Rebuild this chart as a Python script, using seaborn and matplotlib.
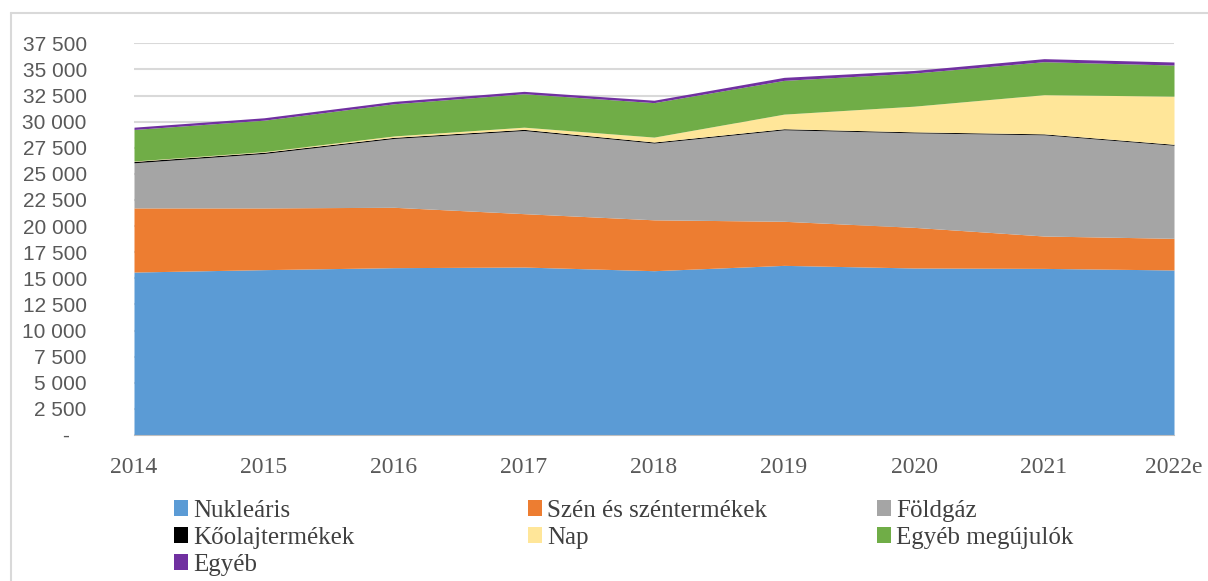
import matplotlib
matplotlib.use("Agg")
import matplotlib.pyplot as plt
import matplotlib.patches as mpatches
from matplotlib.lines import Line2D
import seaborn as sns
import numpy as np

years = ['2014', '2015', '2016', '2017', '2018', '2019', '2020', '2021', '2022e']
nuklearis = [15600, 15830, 16020, 16080, 15730, 16240, 15990, 15950, 15800]
szen = [6140, 5910, 5780, 5110, 4870, 4220, 3890, 3100, 3030]
foldgaz = [4320, 5210, 6590, 7960, 7350, 8760, 9050, 9690, 8910]
koolaj = [130, 120, 110, 110, 100, 100, 90, 90, 90]
nap = [40, 60, 130, 210, 470, 1400, 2460, 3750, 4610]
egyeb_megujulo = [3020, 3010, 3080, 3200, 3300, 3230, 3170, 3160, 2980]
egyeb = [220, 230, 230, 230, 230, 290, 250, 290, 290]

labels = ['Nukleáris', 'Szén és széntermékek', 'Földgáz', 'Kőolajtermékek',
          'Nap', 'Egyéb megújulók', 'Egyéb']
colors = ['#5B9BD5', '#ED7D31', '#A5A5A5', '#000000', '#FFE699', '#70AD47', '#7030A0']

sns.set_style('white')

fig = plt.figure(figsize=(12.08, 5.81), dpi=100)
ax = fig.add_axes([134/1208, 1 - 435/581, (1174-134)/1208, (435-43.3)/581])

x = np.arange(len(years))
ax.stackplot(x, nuklearis, szen, foldgaz, koolaj, nap, egyeb_megujulo, egyeb,
             colors=colors, labels=labels, linewidth=0, zorder=3)

ax.set_xlim(0, len(years) - 1)
ax.set_ylim(0, 37500)
yt = np.arange(0, 37501, 2500)
ax.set_yticks(yt)
ax.set_yticklabels(['-   '] + [f'{v:,}'.replace(',', ' ') for v in yt[1:]],
                   fontfamily='Liberation Sans', fontsize=15, color='#595959')
ax.set_xticks(x)
ax.set_xticklabels(years, fontfamily='Liberation Serif', fontsize=17, color='#595959')

ax.grid(axis='y', color='#D9D9D9', linewidth=1.5, zorder=0)
ax.grid(axis='x', visible=False)
for s in ['top', 'right', 'left']:
    ax.spines[s].set_visible(False)
ax.spines['bottom'].set_color('#BFBFBF')
ax.spines['bottom'].set_zorder(4)
ax.tick_params(axis='y', length=0, pad=34)
ax.tick_params(axis='x', length=7, width=1, color='#BFBFBF', direction='out', pad=9)

# outer chart border
fig.add_artist(Line2D([11/1208, 11/1208], [0, 1 - 13/581], color='#D9D9D9', lw=1.5))
fig.add_artist(Line2D([11/1208, 1], [1 - 13/581, 1 - 13/581], color='#D9D9D9', lw=1.5))

# legend, three columns placed like the original
columns = [[0, 3, 6], [1, 4], [2, 5]]
col_x = [174/1208, 528/1208, 877/1208]
for cx, idx in zip(col_x, columns):
    handles = [mpatches.Patch(facecolor=colors[i], edgecolor='none') for i in idx]
    leg = fig.legend(handles, [labels[i] for i in idx], loc='upper left',
                     bbox_to_anchor=(cx, 1 - 500/581), frameon=False,
                     prop={'family': 'Liberation Serif', 'size': 18},
                     handlelength=0.55, handleheight=0.6, handletextpad=0.2,
                     labelspacing=0.2, borderaxespad=0, borderpad=0)
    for t in leg.get_texts():
        t.set_color('#404040')

fig.savefig('out.png', dpi=100)
